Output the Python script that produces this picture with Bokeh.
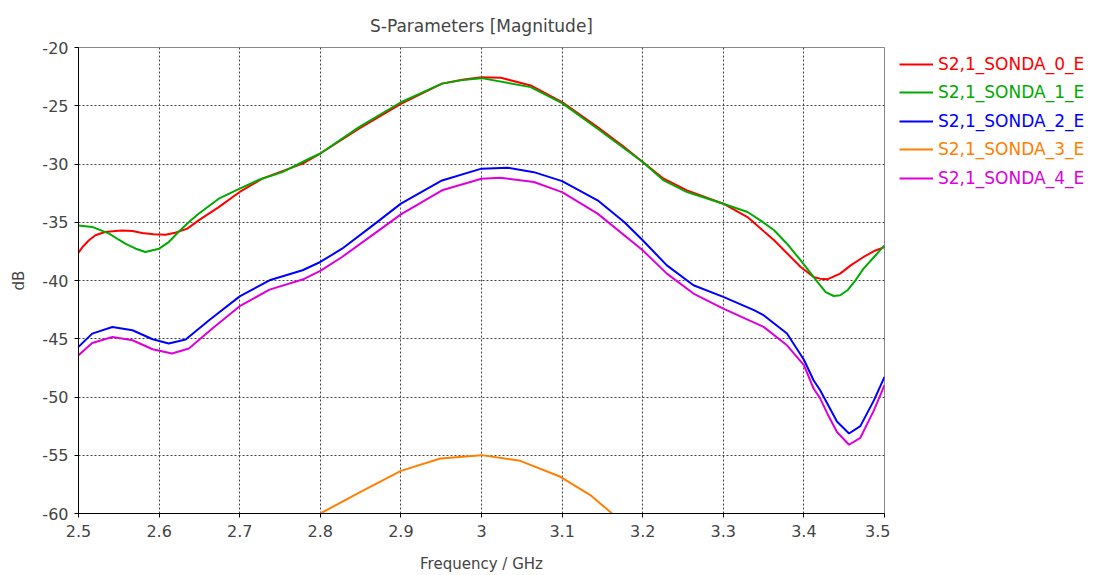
from bokeh.plotting import figure
from bokeh.layouts import row
from bokeh.models import Legend, LegendItem, FixedTicker, Range1d
from bokeh.embed import file_html
from bokeh.resources import INLINE

# ---- data ----
freq_s0 = [2.5, 2.505, 2.513, 2.521, 2.533, 2.546, 2.554, 2.567, 2.579, 2.593, 2.608, 2.62, 2.635, 2.649, 2.674,
           2.7, 2.728, 2.778, 2.8, 2.848, 2.9, 2.951, 2.976, 3.0, 3.024, 3.061, 3.1, 3.144, 3.177, 3.2, 3.226,
           3.255, 3.3, 3.33, 3.363, 3.396, 3.412, 3.42, 3.429, 3.445, 3.458, 3.474, 3.487, 3.5]
db_s0 = [-37.6, -37.13, -36.55, -36.12, -35.84, -35.75, -35.7, -35.75, -35.93, -36.04, -36.07, -35.9, -35.55,
         -34.84, -33.7, -32.4, -31.26, -29.97, -29.1, -26.97, -24.83, -23.1, -22.77, -22.55, -22.6, -23.26,
         -24.69, -26.83, -28.55, -29.83, -31.26, -32.26, -33.41, -34.55, -36.55, -38.84, -39.7, -39.84, -39.9,
         -39.41, -38.7, -37.98, -37.47, -37.13]

freq_s1 = [2.5, 2.517, 2.538, 2.55, 2.558, 2.571, 2.583, 2.6, 2.612, 2.624, 2.637, 2.649, 2.674, 2.7, 2.724,
           2.753, 2.786, 2.8, 2.848, 2.9, 2.951, 2.976, 3.0, 3.061, 3.1, 3.144, 3.2, 3.226, 3.255, 3.3, 3.33,
           3.346, 3.363, 3.379, 3.396, 3.417, 3.427, 3.437, 3.445, 3.454, 3.464, 3.474, 3.487, 3.5]
db_s1 = [-35.27, -35.4, -35.98, -36.5, -36.84, -37.27, -37.55, -37.27, -36.7, -35.84, -34.98, -34.27, -32.98,
         -32.12, -31.35, -30.7, -29.55, -29.1, -26.83, -24.7, -23.1, -22.8, -22.63, -23.4, -24.77, -26.97,
         -29.83, -31.41, -32.41, -33.41, -34.12, -34.84, -35.69, -36.84, -38.27, -40.13, -40.99, -41.33,
         -41.27, -40.84, -39.98, -38.98, -37.98, -36.98]

freq_s2 = [2.5, 2.517, 2.542, 2.567, 2.592, 2.612, 2.633, 2.662, 2.7, 2.737, 2.778, 2.8, 2.827, 2.868, 2.9,
           2.951, 3.0, 3.032, 3.065, 3.1, 3.144, 3.177, 3.2, 3.23, 3.263, 3.3, 3.338, 3.35, 3.379, 3.4, 3.412,
           3.42, 3.429, 3.441, 3.456, 3.47, 3.487, 3.5]
db_s2 = [-45.7, -44.56, -43.99, -44.27, -45.04, -45.41, -45.07, -43.41, -41.36, -39.98, -39.12, -38.41, -37.27,
         -35.12, -33.4, -31.41, -30.4, -30.32, -30.7, -31.47, -33.12, -34.98, -36.55, -38.7, -40.41, -41.41,
         -42.55, -42.98, -44.55, -46.8, -48.56, -49.4, -50.56, -52.1, -53.13, -52.5, -50.27, -48.28]

freq_s3 = [2.8, 2.85, 2.9, 2.949, 3.0, 3.048, 3.098, 3.135, 3.162]
db_s3 = [-60.0, -58.14, -56.34, -55.28, -54.99, -55.48, -56.85, -58.42, -60.0]

freq_s4 = [2.5, 2.517, 2.542, 2.567, 2.592, 2.616, 2.637, 2.666, 2.7, 2.737, 2.778, 2.8, 2.827, 2.868, 2.9,
           2.951, 3.0, 3.024, 3.065, 3.1, 3.144, 3.2, 3.23, 3.263, 3.3, 3.35, 3.379, 3.4, 3.412, 3.42, 3.429,
           3.441, 3.456, 3.47, 3.487, 3.5]
db_s4 = [-46.41, -45.36, -44.85, -45.13, -45.9, -46.27, -45.84, -44.12, -42.21, -40.78, -39.92, -39.18, -37.98,
         -35.93, -34.32, -32.26, -31.26, -31.18, -31.55, -32.41, -34.26, -37.41, -39.41, -41.12, -42.41, -43.98,
         -45.56, -47.27, -49.27, -50.1, -51.41, -53.0, -54.1, -53.5, -51.13, -48.99]

series_names = ["S2,1_SONDA_0_E", "S2,1_SONDA_1_E", "S2,1_SONDA_2_E", "S2,1_SONDA_3_E", "S2,1_SONDA_4_E"]
series_colors = ["#ff0000", "#00aa00", "#0000ff", "#ff8000", "#dd00dd"]
series_freqs = [freq_s0, freq_s1, freq_s2, freq_s3, freq_s4]
series_dbs = [db_s0, db_s1, db_s2, db_s3, db_s4]

x_ticks = [2.5, 2.6, 2.7, 2.8, 2.9, 3.0, 3.1, 3.2, 3.3, 3.4, 3.5]
x_tick_labels = ["2.5", "2.6", "2.7", "2.8", "2.9", "3", "3.1", "3.2", "3.3", "3.4", "3.5"]
y_ticks = [-60, -55, -50, -45, -40, -35, -30, -25, -20]
y_tick_labels = ["-60", "-55", "-50", "-45", "-40", "-35", "-30", "-25", "-20"]

FONT = "DejaVu Sans"
MAIN_W = 890
LEG_W = 1098 - MAIN_W
H = 575
TOP = 47
BOTTOM = 62
FRAME_BOTTOM = H - BOTTOM

p = figure(width=MAIN_W, height=H, output_backend="svg", toolbar_location=None,
           x_range=Range1d(2.5, 3.5), y_range=Range1d(-60, -20),
           title="S-Parameters [Magnitude]",
           min_border_left=78, min_border_right=6, min_border_top=TOP, min_border_bottom=BOTTOM)
p.background_fill_color = "white"
p.border_fill_color = "white"
p.outline_line_color = "#888888"
p.outline_line_width = 1

p.title.text_font = FONT
p.title.text_font_size = "17px"
p.title.text_font_style = "normal"
p.title.align = "center"
p.title.standoff = 24

p.xaxis.ticker = FixedTicker(ticks=x_ticks)
p.xaxis.major_label_overrides = dict(zip(x_ticks, x_tick_labels))
p.yaxis.ticker = FixedTicker(ticks=y_ticks)
p.yaxis.major_label_overrides = dict(zip(y_ticks, y_tick_labels))
p.xaxis.axis_label = "Frequency / GHz"
p.yaxis.axis_label = "dB"
for ax in (p.xaxis, p.yaxis):
    ax.axis_label_text_font = FONT
    ax.axis_label_text_font_size = "15px"
    ax.axis_label_text_font_style = "normal"
    ax.major_label_text_font = FONT
    ax.major_label_text_font_size = "16px"
    ax.axis_line_color = "black"
    ax.major_tick_line_color = "black"
    ax.major_tick_out = 4
    ax.major_tick_in = 0
    ax.minor_tick_line_color = None
p.xaxis.major_label_standoff = 7
p.yaxis.major_label_standoff = 6
p.xaxis.axis_label_standoff = 15
p.yaxis.axis_label_standoff = 11

for g in (p.xgrid, p.ygrid):
    g.grid_line_color = "#404040"
    g.grid_line_dash = "2 2"
    g.grid_line_width = 1

for f, d, c in zip(series_freqs, series_dbs, series_colors):
    p.line(f, d, line_color=c, line_width=2)

# ---- legend panel (separate figure to the right, coloured labels) ----
lp = figure(width=LEG_W, height=H, output_backend="svg", toolbar_location=None,
            x_axis_type=None, y_axis_type=None, x_range=Range1d(0, 1), y_range=Range1d(0, 1),
            min_border_left=0, min_border_right=0, min_border_top=TOP, min_border_bottom=BOTTOM)
lp.outline_line_color = None
lp.background_fill_color = "white"
lp.border_fill_color = "white"
lp.xgrid.visible = False
lp.ygrid.visible = False

row_h = 28.6
for i, (name, c) in enumerate(zip(series_names, series_colors)):
    # legend-only proxy glyph, kept outside the (hidden) view range
    r = lp.line([5, 6], [5, 6], line_color=c, line_width=2)
    yc = 63.5 + i * row_h
    leg = Legend(items=[LegendItem(label=name, renderers=[r])],
                 location=(899 - MAIN_W, (FRAME_BOTTOM - yc) - 10),
                 padding=0, margin=0, spacing=0,
                 glyph_width=34, glyph_height=20, label_height=20, label_standoff=5,
                 label_text_color=c, label_text_font=FONT, label_text_font_size="17px",
                 border_line_alpha=0, background_fill_alpha=0)
    lp.add_layout(leg, "center")

layout = row(p, lp)
open("out.html", "w").write(file_html(layout, INLINE))
